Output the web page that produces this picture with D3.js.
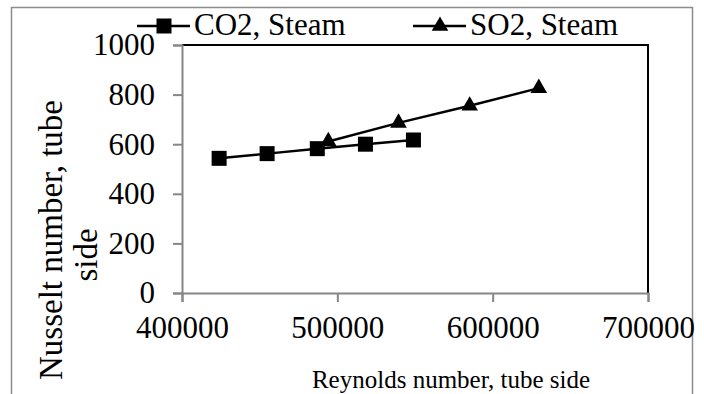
<!DOCTYPE html>
<html>
<head>
<meta charset="utf-8">
<script src="https://cdn.jsdelivr.net/npm/d3@7"></script>
<style>
  body { margin: 0; background: #fff; }
  text { font-family: "Liberation Serif", "Times New Roman", serif; fill: #000; }
</style>
</head>
<body>
<div class="chart"></div>
<script>
var co2Re = [423900, 454800, 487100, 518100, 549000];
var co2Nu = [543, 562, 582, 600, 617];
var so2Re = [494200, 539400, 585200, 629700];
var so2Nu = [611, 686, 755, 826];
var xTicks = [400000, 500000, 600000, 700000];
var yTicks = [0, 200, 400, 600, 800, 1000];
var seriesNames = ['CO2, Steam', 'SO2, Steam'];

var width = 704;
var height = 394;
var margin = { top: 45, right: 56, bottom: 101, left: 182 };

var svg = d3.select('.chart')
  .append('svg')
  .attr('width', width)
  .attr('height', height);

// outer chart frame
svg.append('rect')
  .attr('x', 11.5)
  .attr('y', 7.5)
  .attr('width', 681)
  .attr('height', 420)
  .attr('fill', 'none')
  .attr('stroke', '#8c8c8c')
  .attr('stroke-width', 1.5);

var xScale = d3.scaleLinear()
  .domain([400000, 700000])
  .range([margin.left, width - margin.right]);

var yScale = d3.scaleLinear()
  .domain([0, 1000])
  .range([height - margin.bottom, margin.top]);

// plot area border (top and right are black)
svg.append('path')
  .attr('d', `M${xScale(400000)},${yScale(1000)}H${xScale(700000)}V${yScale(0)}`)
  .attr('fill', 'none')
  .attr('stroke', '#000')
  .attr('stroke-width', 2);

var xAxis = g => g
  .attr('transform', `translate(0, ${yScale(0)})`)
  .call(d3.axisBottom(xScale).tickValues(xTicks).tickSize(9).tickPadding(14).tickFormat(d3.format('d')))
  .call(g => g.select('.domain').attr('stroke', '#868686').attr('stroke-width', 2))
  .call(g => g.selectAll('.tick line').attr('stroke', '#868686').attr('stroke-width', 2))
  .call(g => g.selectAll('.tick text').attr('font-size', 31).attr('font-family', 'Liberation Serif').attr('fill', '#000'));

var yAxis = g => g
  .attr('transform', `translate(${xScale(400000)}, 0)`)
  .call(d3.axisLeft(yScale).tickValues(yTicks).tickSize(9).tickPadding(18).tickFormat(d3.format('d')))
  .call(g => g.select('.domain').attr('stroke', '#868686').attr('stroke-width', 2))
  .call(g => g.selectAll('.tick line').attr('stroke', '#868686').attr('stroke-width', 2))
  .call(g => g.selectAll('.tick text').attr('font-size', 31).attr('font-family', 'Liberation Serif').attr('fill', '#000'));

svg.append('g').call(xAxis);
svg.append('g').call(yAxis);

var data = [
  { name: seriesNames[0], symbol: d3.symbolSquare, size: 225, values: co2Re.map((r, i) => ({ re: r, nu: co2Nu[i] })) },
  { name: seriesNames[1], symbol: d3.symbolTriangle, size: 120, values: so2Re.map((r, i) => ({ re: r, nu: so2Nu[i] })) }
];

var line = d3.line()
  .x(d => xScale(d.re))
  .y(d => yScale(d.nu));

svg.selectAll('.line')
  .data(data)
  .enter()
  .append('path')
  .attr('class', 'line')
  .attr('d', d => line(d.values))
  .attr('stroke', '#000')
  .attr('stroke-width', 2.5)
  .attr('fill', 'none');

data.forEach(s => {
  svg.selectAll(null)
    .data(s.values)
    .enter()
    .append('path')
    .attr('transform', d => `translate(${xScale(d.re)},${yScale(d.nu)})`)
    .attr('d', d3.symbol().type(s.symbol).size(s.size))
    .attr('fill', '#000');
});

// legend
var legendX = [137, 413];
data.forEach((s, i) => {
  var g = svg.append('g').attr('transform', `translate(${legendX[i]}, 26)`);
  g.append('line')
    .attr('x1', 0).attr('x2', 53)
    .attr('stroke', '#000').attr('stroke-width', 2.5);
  g.append('path')
    .attr('transform', 'translate(27,0)')
    .attr('d', d3.symbol().type(s.symbol).size(s.size))
    .attr('fill', '#000');
  g.append('text')
    .attr('x', 57)
    .attr('y', 9)
    .attr('font-size', 31)
    .text(s.name);
});

// axis titles
svg.append('text')
  .attr('x', 451)
  .attr('y', 388)
  .attr('text-anchor', 'middle')
  .attr('font-size', 25)
  .text('Reynolds number, tube side');

var yTitle = svg.append('text')
  .attr('transform', 'translate(62, 0) rotate(-90)')
  .attr('text-anchor', 'middle')
  .attr('font-size', 33);
yTitle.append('tspan').attr('x', -240).attr('y', 0).text('Nusselt number, tube');
yTitle.append('tspan').attr('x', -255).attr('y', 35).text('side');
</script>
</body>
</html>
